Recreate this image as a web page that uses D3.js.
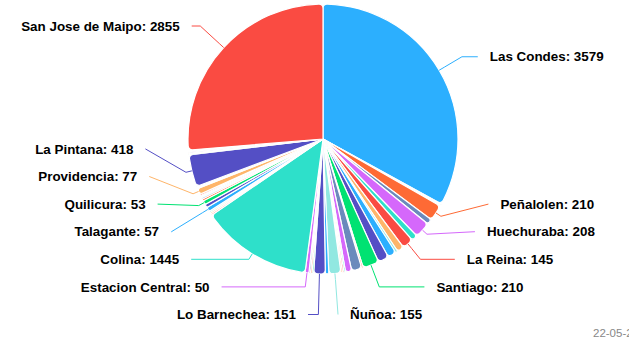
<!DOCTYPE html>
<html>
<head>
<meta charset="utf-8">
<script src="https://cdn.jsdelivr.net/npm/d3@7"></script>
<style>
  html, body { margin: 0; padding: 0; background: #ffffff; overflow: hidden; }
  svg { display: block; font-family: "Liberation Sans", Arial, Helvetica, sans-serif; }
</style>
</head>
<body>
<svg id="chart" width="629" height="348"></svg>
<script>
// Cases per comuna, in slice order (clockwise from 12 o'clock).
// An empty name marks a slice whose label is hidden by the layout.
const comunas = [
  "Las Condes", "", "", "Peñalolen", "", "Huechuraba", "", "La Reina", "", "",
  "", "", "Santiago", "", "", "", "", "", "", "Ñuñoa",
  "", "Lo Barnechea", "", "", "", "Estacion Central", "Colina", "", "", "",
  "Talagante", "", "Quilicura", "", "", "", "", "", "Providencia", "",
  "", "La Pintana", "", "", "", "", "", "San Jose de Maipo"
];
const casos = [
  3579, 15, 15, 210, 70, 208, 80, 145, 90, 30,
  110, 140, 210, 20, 133, 80, 20, 20, 20, 155,
  45, 151, 20, 20, 20, 50, 1445, 20, 20, 20,
  57, 44, 53, 25, 20, 15, 15, 20, 77, 15,
  15, 418, 15, 15, 10, 10, 10, 2855
];
const palette = ["#2caffe", "#544fc5", "#00e272", "#fe6a35", "#6b8abc",
                 "#d568fb", "#2ee0ca", "#fa4b42", "#feb56a", "#91e8e1"];
const fecha = "22-05-2022";

const rows = casos.map((v, i) => ({ name: comunas[i], value: v, color: palette[i % palette.length] }));

const svg = d3.select("#chart");
const cx = 323, cy = 139, r = 135;
const labelDistance = 50, R = r + labelDistance;
const labelPad = 5, connectorGap = 12, minBottomOffset = 22;
const topLimit = 26, bottomLimit = 314.5, rowGap = 27.6;

const pie = d3.pie().sort(null).value(d => d.value).startAngle(0).endAngle(2 * Math.PI);
const arcs = pie(rows);
const arcGen = d3.arc().innerRadius(0).outerRadius(r).cornerRadius(4);

const g = svg.append("g").attr("transform", `translate(${cx},${cy})`);
g.selectAll("path.slice")
  .data(arcs)
  .join("path")
  .attr("class", "slice")
  .attr("d", arcGen)
  .attr("fill", d => d.data.color)
  .attr("stroke", "#ffffff")
  .attr("stroke-width", 1.2)
  .attr("stroke-linejoin", "round");

// ---- data label layout (two columns, pushed apart vertically) ----
const labelled = arcs.filter(a => a.data.name).map(a => {
  const mid = (a.startAngle + a.endAngle) / 2;
  return {
    arc: a,
    mid,
    left: mid > Math.PI,
    ny: cy + 12 - R * Math.cos(mid)
  };
});

function distribute(items) {
  items.sort((a, b) => a.ny - b.ny);
  items.forEach(d => { d.y = Math.max(topLimit, Math.min(bottomLimit, d.ny)); });
  for (let i = items.length - 1; i >= 0; i--) {
    const cap = i === items.length - 1 ? bottomLimit : items[i + 1].y - rowGap;
    items[i].y = Math.min(items[i].y, cap);
  }
  for (let i = 0; i < items.length; i++) {
    const floor = i === 0 ? topLimit : items[i - 1].y + rowGap;
    items[i].y = Math.max(items[i].y, floor);
  }
  items.forEach(d => {
    const s = d.left ? -1 : 1;
    const atBottom = d.y >= bottomLimit - 1;
    const pushed = Math.abs(d.y - d.ny) > 1 && !atBottom;
    if (pushed) {
      // follow the label circle
      const dy = d.y - (cy - 2);
      d.x = cx + s * (Math.sqrt(Math.max(0, R * R - dy * dy)) + labelPad);
    } else if (atBottom) {
      // bottom row: keep clear of the vertical through the centre
      d.x = cx + s * (Math.max(Math.abs(R * Math.sin(d.mid)), minBottomOffset) + labelPad);
    } else {
      // natural position
      d.x = cx + (R + 3) * Math.sin(d.mid) + s * labelPad;
    }
  });
}
distribute(labelled.filter(d => !d.left));
distribute(labelled.filter(d => d.left));

// connectors: label -> crook on the slice's radial line -> break point -> slice edge
function connectorPath(d) {
  const s = d.left ? -1 : 1;
  const sx = d.x - s * connectorGap, sy = d.y;
  const sin = Math.sin(d.mid), cos = Math.cos(d.mid);
  const touch = [cx + r * sin, cy - r * cos];
  const brk = [cx + (r + 6) * sin, cy - (r + 6) * cos];
  const crookX = cx + (sy - cy) * sin / (-cos);
  const pts = [[sx, sy]];
  const useCrook = d.left ? (crookX >= sx && crookX <= brk[0]) : (crookX <= sx && crookX >= brk[0]);
  if (useCrook) pts.push([crookX, sy]);
  pts.push(brk, touch);
  return d3.line()(pts);
}

svg.append("g")
  .selectAll("path")
  .data(labelled)
  .join("path")
  .attr("d", connectorPath)
  .attr("fill", "none")
  .attr("stroke", d => d.arc.data.color)
  .attr("stroke-width", 1);

svg.append("g")
  .selectAll("text")
  .data(labelled)
  .join("text")
  .attr("x", d => d.x)
  .attr("y", d => d.y)
  .attr("dy", "0.35em")
  .attr("text-anchor", d => d.left ? "end" : "start")
  .attr("font-size", "13.4px")
  .attr("font-weight", "bold")
  .attr("fill", "#000000")
  .attr("stroke", "#ffffff")
  .attr("stroke-width", 1)
  .attr("paint-order", "stroke")
  .text(d => `${d.arc.data.name}: ${d.arc.data.value}`);

svg.append("text")
  .attr("x", 593)
  .attr("y", 337)
  .attr("font-size", "11.5px")
  .attr("fill", "#888888")
  .text(fecha);
</script>
</body>
</html>
